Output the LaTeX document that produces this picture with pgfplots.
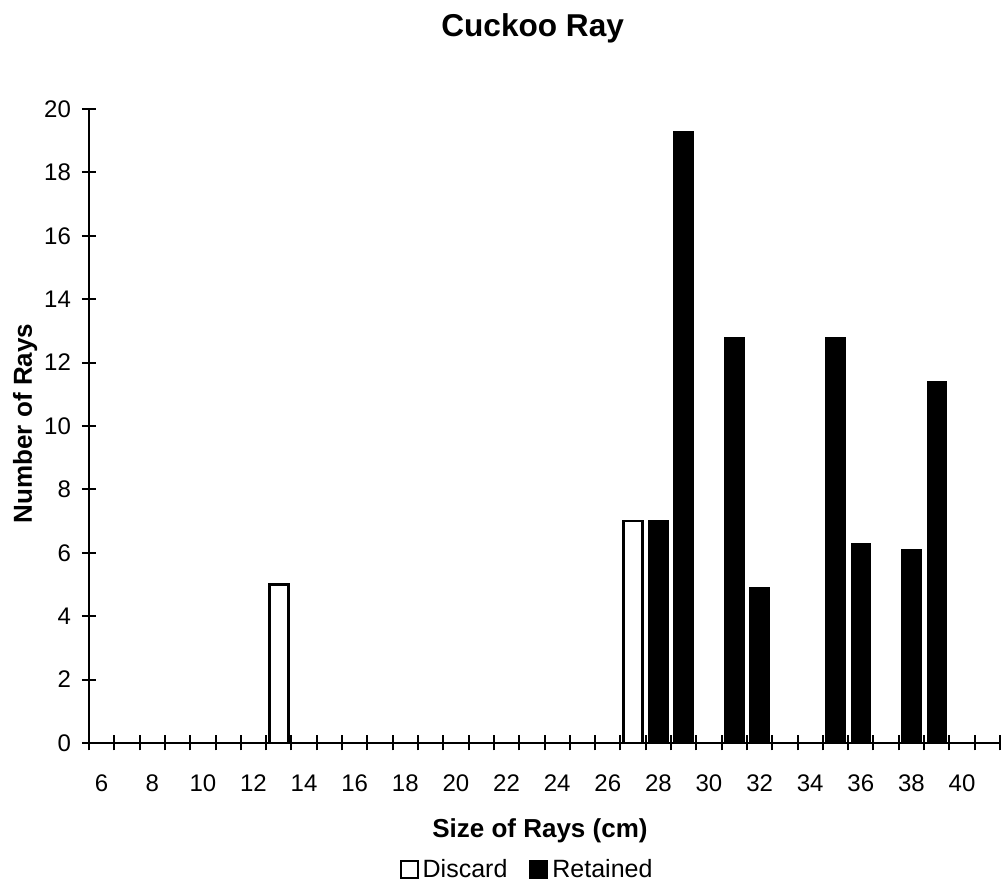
\documentclass[border=0pt]{standalone}
\usepackage{pgfplots}
\pgfplotsset{compat=1.18}
\usepackage{fontspec}
\setmainfont{Liberation Sans}

% Catch of cuckoo ray by size class (cm)
\pgfplotstableread{
size count
13   5
27   7
}\discardtbl
\pgfplotstableread{
size count
28   7
29   19.3
31   12.8
32   4.9
35   12.8
36   6.3
38   6.1
39   11.4
}\retainedtbl

\begin{document}
\begin{tikzpicture}
\begin{axis}[
  name=ax,
  scale only axis,
  width=455.5pt, height=317pt,
  xmin=5.5, xmax=41.5, ymin=0, ymax=20,
  axis lines=left,
  axis line style={-, line width=1.3pt, black},
  ybar, bar width=0.76, bar shift=0pt,
  xtick={6,8,...,40},
  minor xtick={5.5,6.5,...,41.5},
  ytick={0,2,...,20},
  tick align=center,
  tick style={black, line width=1pt},
  major x tick style={draw=none},
  major tick length=7pt, minor tick length=7.5pt,
  /pgf/number format/assume math mode=true,
  tick label style={font=\fontsize{12}{14}\selectfont},
  xticklabel style={yshift=-9pt},
  yticklabel style={xshift=-2pt},
  title={Cuckoo Ray},
  title style={at={(axis description cs:0.487,1.0947)}, anchor=base,
    font=\fontsize{15.8}{19}\selectfont\bfseries},
  xlabel={Size of Rays (cm)},
  xlabel style={at={(axis description cs:0.495,-0.1489)}, anchor=base,
    font=\fontsize{13}{16}\selectfont\bfseries},
  ylabel={Number of Rays},
  ylabel style={at={(axis description cs:-0.0626,0.504)}, anchor=base,
    font=\fontsize{13}{16}\selectfont\bfseries},
  legend style={at={(axis description cs:0.482,-0.2003)}, anchor=center,
    draw=none, legend columns=2, font=\fontsize{12.5}{15}\selectfont,
    /tikz/every even column/.append style={column sep=9pt}},
  sq legend/.style={legend image code/.code={
    \draw[##1, line width=1pt, bar shift=0pt] (0pt,-4.25pt) rectangle (8.5pt,4.25pt);}},
]
\addplot[draw=black, fill=white, line width=1.4pt, sq legend]
  table[x=size, y=count] {\discardtbl};
\addlegendentry{Discard}
\addplot[draw=black, fill=black, line width=0.6pt, sq legend]
  table[x=size, y=count] {\retainedtbl};
\addlegendentry{Retained}
\end{axis}
\pgfresetboundingbox
\path ([xshift=-44.5pt,yshift=-70pt]ax.south west)
  rectangle ([xshift=1pt,yshift=54.5pt]ax.north east);
\end{tikzpicture}
\end{document}
